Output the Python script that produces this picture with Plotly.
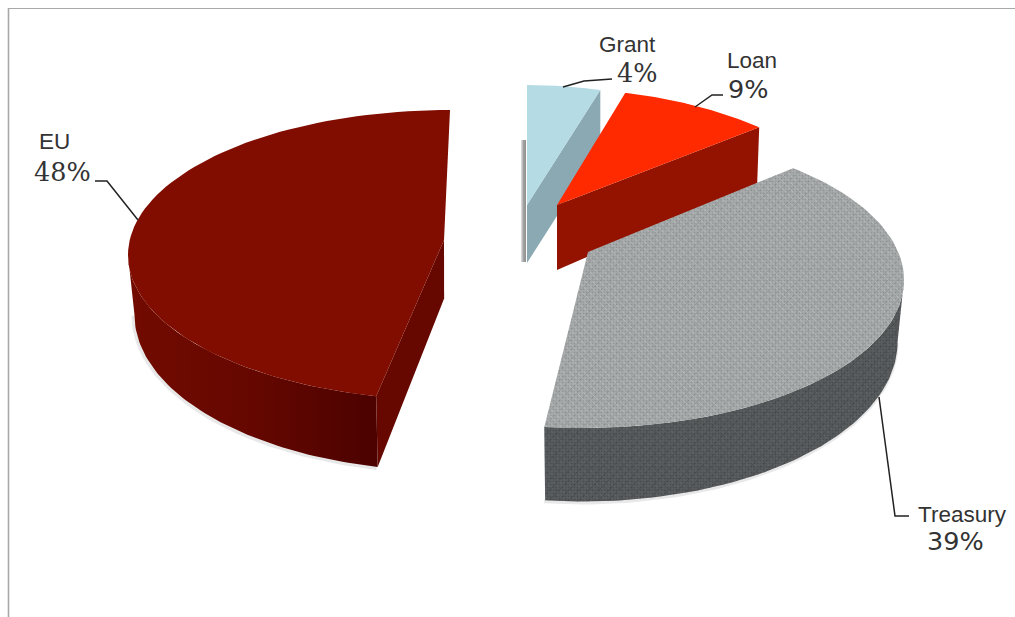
import numpy as np
import plotly.graph_objects as go

categories = ["Grant", "Loan", "Treasury", "EU"]
shares = [4, 9, 39, 48]

# Projection of the tilted, exploded pie onto the page (pixel space of the axes)
GEOMETRY = {
    "Grant": dict(apex=(527, 205), centre=(527, 277), a=320, b=192, start=90, squeeze=0.92, ccw=False,
                  d0=58, dy=0.0, inset=1.0, face=True),
    "Loan": dict(apex=(557, 205), centre=(557, 259), a=320, b=170, start=77.7, squeeze=0.83, ccw=False,
                 d0=60, dy=0.115, yref=162, inset=0.99, face=True),
    "Treasury": dict(apex=(588, 252), centre=(583, 280), a=321, b=148, start=49.1, squeeze=1.04, ccw=False,
                     d0=60, dy=0.08, yref=260, inset=0.98, face=False),
    "EU": dict(apex=(444, 240), centre=(450, 255), a=322, b=145, start=90, squeeze=0.965, ccw=True,
               d0=60, dy=0.08, yref=260, inset=0.98, face=True),
}
COLOURS = {
    "Grant": dict(top="#b5dbe5", face="#8aa9b2"),
    "Loan": dict(top="#ff2a00", face="#941200"),
    "Treasury": dict(top="#a6a9a9", side="#56595b"),
    "EU": dict(top="#800d00", face="#660800"),
}
LABELS = {
    "Grant": dict(name=(627, 44), pct=(637, 73), pct_font="DejaVu Serif", leader=((563, 87), (584, 81), (612, 79))),
    "Loan": dict(name=(752, 60), pct=(748, 89), pct_font="DejaVu Sans", leader=((695, 107), (712, 95), (723, 95))),
    "Treasury": dict(name=(962, 514), pct=(955, 541), pct_font="DejaVu Sans", leader=((879, 397), (895, 516), (909, 516))),
    "EU": dict(name=(54, 141), pct=(62, 172), pct_font="DejaVu Serif", leader=((138, 220), (107, 181), (95, 181))),
}
TOP_GRAIN = [
    dict(shape=".", bgcolor="#a9acac", fgcolor="#7e8182", size=3, solidity=0.3, fgopacity=0.55),
    dict(shape="/", bgcolor="rgba(0,0,0,0)", fgcolor="#6f7273", size=7, solidity=0.14, fgopacity=0.35),
    dict(shape="\\", bgcolor="rgba(0,0,0,0)", fgcolor="#d8dada", size=5, solidity=0.16, fgopacity=0.45),
    dict(shape="+", bgcolor="rgba(0,0,0,0)", fgcolor="#8b8e8f", size=11, solidity=0.1, fgopacity=0.35),
]
SIDE_GRAIN = [
    dict(shape=".", bgcolor="#5a5d5f", fgcolor="#3a3d40", size=3, solidity=0.3, fgopacity=0.55),
    dict(shape="/", bgcolor="rgba(0,0,0,0)", fgcolor="#2f3234", size=7, solidity=0.14, fgopacity=0.4),
    dict(shape="\\", bgcolor="rgba(0,0,0,0)", fgcolor="#74777a", size=5, solidity=0.16, fgopacity=0.35),
    dict(shape="+", bgcolor="rgba(0,0,0,0)", fgcolor="#3d4042", size=11, solidity=0.1, fgopacity=0.4),
]


def rim(g, t):
    r = np.radians(t)
    return g["centre"][0] + g["a"] * np.cos(r), g["centre"][1] - g["b"] * np.sin(r)


def lower(g, x, y):
    depth = g["d0"] + g["dy"] * (y - g.get("yref", y))
    cx = g["centre"][0]
    return cx + (x - cx) * g["inset"], y + depth


def sweep_of(g, share):
    s = share * 3.6 * g["squeeze"]
    return g["start"] + s if g["ccw"] else g["start"] - s


fig = go.Figure()


def poly(xs, ys, **kw):
    fig.add_trace(go.Scatter(x=list(xs), y=list(ys), mode="lines", fill="toself",
                             line=dict(width=0), hoverinfo="skip", showlegend=False, **kw))


def shadow(xs, ys):
    fig.add_trace(go.Scatter(x=list(xs), y=list(ys), mode="lines", line=dict(color="rgba(90,90,90,0.14)", width=4),
                             hoverinfo="skip", showlegend=False))


# Thin soft shadow strip behind the Grant slice
poly([521, 526, 526, 521], [140, 140, 262, 262],
     fillgradient=dict(type="horizontal", colorscale=[[0, "#e4e4e4"], [0.5, "#a2a2a2"], [1, "#8f8f8f"]]))

for name, share in zip(categories, shares):
    g, c = GEOMETRY[name], COLOURS[name]
    end = sweep_of(g, share)
    ts = np.linspace(g["start"], end, 90)
    tx, ty = rim(g, ts)

    # Visible outer wall
    if name == "EU":
        wall = np.linspace(180, end, 70)
    elif name == "Treasury":
        wall = np.linspace(0, end, 70)
    else:
        wall = None
    if wall is not None:
        wx, wy = rim(g, wall)
        bx, by = lower(g, wx, wy)
        shadow(bx - 1, by + 1)
        xs = np.concatenate([wx, bx[::-1]])
        ys = np.concatenate([wy, by[::-1]])
        if name == "EU":
            poly(xs, ys, fillgradient=dict(type="horizontal",
                                           colorscale=[[0, "#720b00"], [0.5, "#650700"], [1, "#4b0200"]]))
        else:
            for grain in SIDE_GRAIN:
                poly(xs, ys, fillpattern=grain)

    # Straight cut face
    if g["face"]:
        ax, ay = g["apex"]
        ex, ey = rim(g, end)
        blx, bly = lower(g, ex, ey)
        bax, bay = lower(g, ax, ay)
        poly([ax, ex, blx, bax], [ay, ey, bly, bay], fillcolor=c["face"])

    # Top surface
    px = np.concatenate([[g["apex"][0]], tx])
    py = np.concatenate([[g["apex"][1]], ty])
    if name == "Treasury":
        for grain in TOP_GRAIN:
            poly(px, py, fillpattern=grain)
    else:
        poly(px, py, fillcolor=c["top"])

annotations = []
for name, share in zip(categories, shares):
    lab = LABELS[name]
    lx, ly = zip(*lab["leader"])
    fig.add_trace(go.Scatter(x=lx, y=ly, mode="lines", line=dict(color="#222222", width=1.5),
                             hoverinfo="skip", showlegend=False))
    annotations.append(dict(x=lab["name"][0], y=lab["name"][1], text=name, showarrow=False,
                            font=dict(family="Liberation Sans", size=22.5, color="#333333")))
    annotations.append(dict(x=lab["pct"][0], y=lab["pct"][1], text=f"{share}%", showarrow=False,
                            font=dict(family=lab["pct_font"], size=25.5, color="#333333")))

frame = [dict(type="line", x0=8.5, x1=8.5, y0=8, y1=617, line=dict(color="#a8a8a8", width=1.6)),
         dict(type="line", x0=8, x1=1015, y0=8.5, y1=8.5, line=dict(color="#a8a8a8", width=1.2))]

fig.update_layout(
    width=1015, height=617, margin=dict(l=0, r=0, t=0, b=0),
    paper_bgcolor="white", plot_bgcolor="white", showlegend=False,
    xaxis=dict(range=[0, 1015], visible=False, fixedrange=True),
    yaxis=dict(range=[617, 0], visible=False, fixedrange=True),
    annotations=annotations, shapes=frame,
)

fig.write_html("out.html", config=dict(displayModeBar=False),
               post_script="document.body.style.margin='0';document.documentElement.style.overflow='hidden';")
